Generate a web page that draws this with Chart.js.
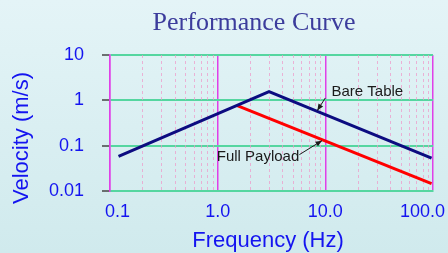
<!DOCTYPE html>
<html>
<head>
<meta charset="utf-8">
<script src="https://cdn.jsdelivr.net/npm/chart.js@4"></script>
<style>
  html, body { margin: 0; padding: 0; }
  body {
    width: 448px; height: 253px; overflow: hidden;
    background: linear-gradient(#e4f4f7, #d0eaed);
  }
  #wrap { position: relative; width: 448px; height: 253px; }
</style>
</head>
<body>
<div id="wrap"><canvas id="myChart" width="448" height="253"></canvas></div>
<script>
// Данные графика
const bareFreq = [0.12, 3, 97];
const bareVel = [0.058, 1.55, 0.053];
const payloadFreq = [1.5, 97];
const payloadVel = [0.77, 0.0146];

const xTicks = [0.1, 1, 10, 100];
const xTickLabels = ['0.1', '1.0', '10.0', '100.0'];
const yTicks = [0.01, 0.1, 1, 10];
const yTickLabels = ['0.01', '0.1', '1', '10'];

const blue = '#1414f0';

function toPoints(xs, ys) {
    return xs.map((x, i) => ({ x: x, y: ys[i] }));
}

// Подписи со стрелками (в координатах данных)
const notes = [
    { text: 'Bare Table', at: [11.4, 1.54], from: [10.0, 1.13], tip: [8.43, 0.597] },
    { text: 'Full Payload', at: [0.98, 0.0573], from: [5.74, 0.0634], tip: [9.31, 0.129] }
];

// Второстепенные вертикальные линии, подписи и стрелки
const extras = {
    id: 'extras',
    beforeDatasetsDraw(chart) {
        const ctx = chart.ctx;
        const x = chart.scales.x, area = chart.chartArea;
        ctx.save();
        ctx.strokeStyle = 'rgba(240,150,200,0.7)';
        ctx.lineWidth = 1;
        ctx.setLineDash([3, 3]);
        for (let d = 0.1; d < 100; d *= 10) {
            for (let k = 2; k <= 9; k++) {
                const px = Math.round(x.getPixelForValue(d * k)) + 0.5;
                ctx.beginPath();
                ctx.moveTo(px, area.top);
                ctx.lineTo(px, area.bottom);
                ctx.stroke();
            }
        }
        ctx.restore();
    },
    afterDraw(chart) {
        const ctx = chart.ctx;
        const x = chart.scales.x, y = chart.scales.y;
        ctx.save();

        // заголовок
        ctx.fillStyle = '#3c3c9c';
        ctx.font = '26px "Liberation Serif"';
        ctx.textAlign = 'center';
        ctx.textBaseline = 'alphabetic';
        ctx.fillText('Performance Curve', 254, 30);

        // подписи оси X
        ctx.fillStyle = blue;
        ctx.font = '18px "Liberation Sans"';
        ctx.textBaseline = 'middle';
        xTicks.forEach((v, i) => {
            const w = ctx.measureText(xTickLabels[i]).width;
            let cx = x.getPixelForValue(v);
            cx = Math.max(cx, 105 + w / 2);
            cx = Math.min(cx, 445 - w / 2);
            ctx.fillText(xTickLabels[i], cx, 212);
        });

        // названия осей
        ctx.font = '22px "Liberation Sans"';
        ctx.fillText('Frequency (Hz)', 268, 241);
        ctx.save();
        ctx.translate(22, 138);
        ctx.rotate(-Math.PI / 2);
        ctx.fillText('Velocity (m/s)', 0, 0);
        ctx.restore();

        // аннотации
        ctx.font = '15px "Liberation Sans"';
        ctx.textAlign = 'left';
        ctx.fillStyle = '#1a1a1a';
        ctx.strokeStyle = '#1a1a1a';
        ctx.lineWidth = 1;
        notes.forEach(n => {
            ctx.fillText(n.text, x.getPixelForValue(n.at[0]), y.getPixelForValue(n.at[1]));
            const x1 = x.getPixelForValue(n.from[0]), y1 = y.getPixelForValue(n.from[1]);
            const x2 = x.getPixelForValue(n.tip[0]), y2 = y.getPixelForValue(n.tip[1]);
            const a = Math.atan2(y2 - y1, x2 - x1);
            ctx.beginPath();
            ctx.moveTo(x1, y1);
            ctx.lineTo(x2, y2);
            ctx.stroke();
            ctx.beginPath();
            ctx.moveTo(x2, y2);
            ctx.lineTo(x2 - 7 * Math.cos(a - 0.4), y2 - 7 * Math.sin(a - 0.4));
            ctx.lineTo(x2 - 7 * Math.cos(a + 0.4), y2 - 7 * Math.sin(a + 0.4));
            ctx.closePath();
            ctx.fill();
        });
        ctx.restore();
    }
};

const config = {
    type: 'line',
    data: {
        datasets: [{
            label: 'Bare Table',
            data: toPoints(bareFreq, bareVel),
            borderColor: '#0c0c80',
            borderWidth: 3,
            pointRadius: 0,
            tension: 0
        }, {
            label: 'Full Payload',
            data: toPoints(payloadFreq, payloadVel),
            borderColor: '#ff0000',
            borderWidth: 3,
            pointRadius: 0,
            tension: 0
        }]
    },
    options: {
        responsive: false,
        animation: false,
        layout: { padding: { top: 55, right: 15, left: 0, bottom: 0 } },
        plugins: {
            legend: { display: false },
            tooltip: { enabled: false },
            title: { display: false }
        },
        scales: {
            x: {
                type: 'logarithmic',
                min: 0.1,
                max: 100,
                afterBuildTicks: scale => { scale.ticks = xTicks.map(v => ({ value: v })); },
                afterFit: scale => { scale.height = 62; },
                ticks: { display: false },
                grid: { color: '#e040e8', lineWidth: 1.5, drawTicks: false },
                border: { color: '#55d6a0', width: 2 }
            },
            y: {
                type: 'logarithmic',
                min: 0.01,
                max: 10,
                afterBuildTicks: scale => { scale.ticks = yTicks.map(v => ({ value: v })); },
                afterFit: scale => { scale.width = 110; },
                ticks: {
                    color: blue,
                    padding: 18,
                    font: { family: 'Liberation Sans', size: 18 },
                    callback: (v, i) => yTickLabels[i]
                },
                grid: { color: '#55d6a0', lineWidth: 2, tickLength: 8, tickColor: '#444', tickWidth: 1.5 },
                border: { color: '#e040e8', width: 1.5 }
            }
        }
    },
    plugins: [extras]
};

new Chart(document.getElementById('myChart'), config);
</script>
</body>
</html>
